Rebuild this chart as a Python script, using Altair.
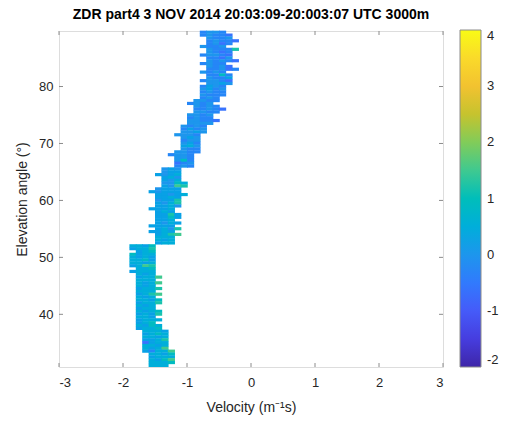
import altair as alt
import pandas as pd

TITLE = "ZDR part4 3 NOV 2014 20:03:09-20:003:07 UTC 3000m"
FONT = "Liberation Sans"
INK = "#262626"
FRAME = "#8c8c8c"

# Elevation of each scan row (deg), top row first
row_elev = [
    89.5, 89.0, 88.5, 88.0, 87.5, 87.0, 86.5, 86.0, 85.5, 85.0,
    84.5, 84.0, 83.5, 83.0, 82.5, 82.0, 81.5, 81.0, 80.5, 80.0,
    79.5, 79.0, 78.5, 78.0, 77.5, 77.0, 76.5, 76.0, 75.5, 75.0,
    74.5, 74.0, 73.5, 73.0, 72.5, 72.0, 71.5, 71.0, 70.5, 70.0,
    69.5, 69.0, 68.5, 68.0, 67.5, 67.0, 66.5, 66.0, 65.5, 65.0,
    64.5, 64.0, 63.5, 63.0, 62.5, 62.0, 61.5, 61.0, 60.5, 60.0,
    59.5, 59.0, 58.5, 58.0, 57.5, 57.0, 56.5, 56.0, 55.5, 55.0,
    54.5, 54.0, 53.5, 53.0, 52.5, 52.0, 51.5, 51.0, 50.5, 50.0,
    49.5, 49.0, 48.5, 48.0, 47.5, 47.0, 46.5, 46.0, 45.5, 45.0,
    44.5, 44.0, 43.5, 43.0, 42.5, 42.0, 41.5, 41.0, 40.5, 40.0,
    39.5, 39.0, 38.5, 38.0, 37.5, 37.0, 36.5, 36.0, 35.5, 35.0,
    34.5, 34.0, 33.5, 33.0, 32.5, 32.0, 31.5, 31.0,
]

# Lowest velocity bin edge with signal in each row (m/s)
row_left = [
    -0.8, -0.8, -0.7, -0.7, -0.7, -0.8, -0.7, -0.7, -0.8, -0.7,
    -0.7, -0.8, -0.7, -0.7, -0.8, -0.7, -0.7, -0.8, -0.7, -0.8,
    -0.8, -0.8, -0.8, -0.8, -0.9, -1.0, -0.9, -0.9, -0.9, -1.0,
    -1.0, -1.0, -1.0, -1.1, -1.1, -1.1, -1.2, -1.1, -1.1, -1.1,
    -1.1, -1.1, -1.2, -1.3, -1.2, -1.2, -1.2, -1.2, -1.4, -1.4,
    -1.5, -1.4, -1.4, -1.4, -1.4, -1.5, -1.6, -1.5, -1.5, -1.5,
    -1.5, -1.5, -1.6, -1.5, -1.5, -1.5, -1.5, -1.5, -1.6, -1.5,
    -1.6, -1.5, -1.5, -1.5, -1.5, -1.9, -1.9, -1.8, -1.9, -1.9,
    -1.9, -1.9, -1.9, -1.8, -1.9, -1.8, -1.8, -1.8, -1.8, -1.8,
    -1.8, -1.8, -1.8, -1.8, -1.8, -1.8, -1.8, -1.8, -1.8, -1.8,
    -1.8, -1.8, -1.8, -1.8, -1.8, -1.7, -1.7, -1.7, -1.7, -1.7,
    -1.7, -1.7, -1.7, -1.6, -1.6, -1.6, -1.6, -1.6,
]

# ZDR class of each 0.1 m/s bin along the row, one character per bin
row_zdr = [
    "2332", "23221", "3223", "23221", "2312", "3223", "32227", "3212", "23321", "2213",
    "32321", "2322", "3231", "22312", "3232", "2262", "3224", "23321", "3343", "2432",
    "3423", "2322", "3222", "232", "3322", "2323", "3232", "22321", "3322", "3323",
    "2322", "33221", "3333", "3232", "2423", "3343", "3332", "343", "233", "342",
    "453", "322", "3322", "2332", "332", "362", "123", "232", "343", "344",
    "4345", "453", "435", "3365", "4387", "3444", "43444", "44345", "4454", "3447",
    "4357", "4453", "4445", "454", "4474", "4464", "445", "4354", "4444", "4537",
    "4454", "4578", "555", "545", "455", "5546", "4557", "456", "6455", "5454",
    "5564", "5545", "4587", "556", "4555", "545", "4558", "555", "5458", "545",
    "4557", "555", "4578", "545", "5546", "4557", "545", "455", "5456", "4547",
    "554", "4555", "456", "5465", "4556", "5554", "4565", "5545", "4457", "1455",
    "5545", "5458", "42558", "5546", "4555", "5468", "5556", "555",
]

# ZDR value (dB) of each class character
ZDR_CODE = {
    "0": -1.0, "1": -0.6, "2": -0.3, "3": 0.0, "4": 0.2,
    "5": 0.5, "6": 0.9, "7": 1.2, "8": 1.5, "9": 1.9,
}

VEL_BIN = 0.1
ELEV_BIN = 0.5
# small overdraw so antialiased edges of neighbouring bins do not leave seams
OVER_V, OVER_E = 0.012, 0.06

records = []
for elev, left, codes in zip(row_elev, row_left, row_zdr):
    for k, ch in enumerate(codes):
        v0 = round(left + k * VEL_BIN, 3)
        records.append({
            "v0": v0,
            "v1": v0 + VEL_BIN + OVER_V,
            "e0": elev - ELEV_BIN / 2,
            "e1": elev + ELEV_BIN / 2 + OVER_E,
            "zdr": ZDR_CODE[ch],
        })
cells = pd.DataFrame(records)

# Parula colour map, sampled every fifth entry of the 64-step table
parula_frac = [0, 5, 10, 15, 20, 25, 30, 35, 40, 45, 50, 55, 60, 63]
parula_hex = [
    "#3e26a8", "#463cde", "#4758f8", "#3875fe", "#2b91ef", "#1ca9df", "#02bac3",
    "#31c69f", "#64cd6f", "#abc739", "#e6bb2d", "#fec934", "#f5e924", "#f9fb15",
]
ZDR_MIN, ZDR_MAX = -2, 4
color_domain = [ZDR_MIN + (ZDR_MAX - ZDR_MIN) * f / 63 for f in parula_frac]
colorbar_ticks = [-2, -1, 0, 1, 2, 3, 4]

x_ticks = [-3, -2, -1, 0, 1, 2, 3]
y_ticks = [40, 50, 60, 70, 80]
X_RANGE = [-3, 3]
Y_RANGE = [30.75, 89.75]

PLOT_W, PLOT_H = 384, 336
TICK_LEN = 4

xscale = alt.Scale(domain=X_RANGE, nice=False, zero=False)
yscale = alt.Scale(domain=Y_RANGE, nice=False, zero=False)

X_TITLE = "Velocity (m\u207b\u00b9s)"
Y_TITLE = "Elevation angle (\u00b0)"

xaxis = alt.Axis(
    values=x_ticks, labelExpr="'' + datum.value",
    domain=False, ticks=False, grid=False, labelPadding=9,
    labelFontSize=13, labelColor=INK, labelFont=FONT,
    titleFontSize=14, titleFontWeight="normal", titleColor=INK,
    titleFont=FONT, titlePadding=11,
)
yaxis = alt.Axis(
    values=y_ticks, labelExpr="'' + datum.value",
    domain=False, ticks=False, grid=False, labelPadding=6,
    labelFontSize=13, labelColor=INK, labelFont=FONT,
    titleFontSize=14, titleFontWeight="normal", titleColor=INK,
    titleFont=FONT, titlePadding=9,
)

heat = alt.Chart(cells).mark_rect().encode(
    x=alt.X("v0:Q", scale=xscale, axis=xaxis, title=X_TITLE),
    x2="v1:Q",
    y=alt.Y("e0:Q", scale=yscale, axis=yaxis, title=Y_TITLE),
    y2="e1:Q",
    color=alt.Color(
        "zdr:Q",
        scale=alt.Scale(domain=color_domain, range=parula_hex, clamp=True),
        legend=alt.Legend(
            type="gradient", title=None, orient="none", legendX=401, legendY=-1,
            direction="vertical", gradientLength=337, gradientThickness=21,
            gradientStrokeColor=FRAME, gradientStrokeWidth=1,
            values=colorbar_ticks, labelExpr="'' + datum.value",
            labelFontSize=13, labelColor=INK, labelFont=FONT, labelOffset=6,
            labelOverlap=False, labelBaseline="middle",
        ),
    ),
)

# Inward tick marks on all four sides of the box
xtick_df = pd.DataFrame({"v0": x_ticks})
ytick_df = pd.DataFrame({"e0": y_ticks})

tick_style = dict(color=FRAME, strokeWidth=1)
x_bottom = alt.Chart(xtick_df).mark_rule(**tick_style).encode(
    x=alt.X("v0:Q", scale=xscale, axis=xaxis, title=X_TITLE),
    y=alt.value(PLOT_H), y2=alt.value(PLOT_H - TICK_LEN),
)
x_top = alt.Chart(xtick_df).mark_rule(**tick_style).encode(
    x=alt.X("v0:Q", scale=xscale, axis=xaxis, title=X_TITLE),
    y=alt.value(0), y2=alt.value(TICK_LEN),
)
y_left = alt.Chart(ytick_df).mark_rule(**tick_style).encode(
    y=alt.Y("e0:Q", scale=yscale, axis=yaxis, title=Y_TITLE),
    x=alt.value(0), x2=alt.value(TICK_LEN),
)
y_right = alt.Chart(ytick_df).mark_rule(**tick_style).encode(
    y=alt.Y("e0:Q", scale=yscale, axis=yaxis, title=Y_TITLE),
    x=alt.value(PLOT_W), x2=alt.value(PLOT_W - TICK_LEN),
)

chart = alt.layer(heat, x_bottom, x_top, y_left, y_right).properties(
    width=PLOT_W,
    height=PLOT_H,
    padding={"left": 59, "top": 31, "right": 66, "bottom": 55},
    autosize=alt.AutoSizeParams(type="none"),
    title=alt.TitleParams(
        TITLE, font=FONT, fontSize=14, fontWeight="bold", color="black",
        anchor="middle", offset=8,
    ),
).configure_view(
    stroke=FRAME, strokeWidth=1,
).configure(background="white")

chart.save("out.html", embed_options={"renderer": "svg", "actions": False})
